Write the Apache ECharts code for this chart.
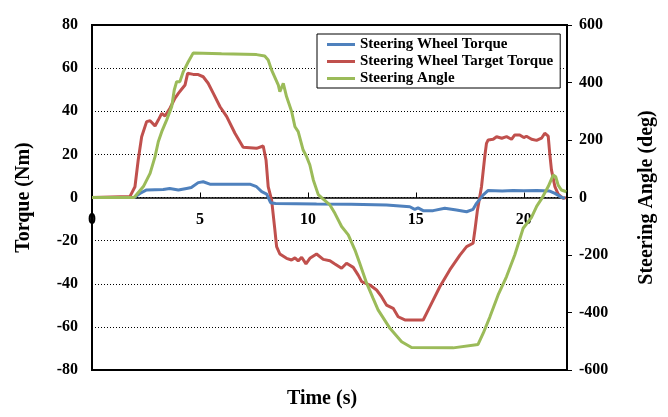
<!DOCTYPE html>
<html>
<head>
<meta charset="utf-8">
<script src="https://cdn.jsdelivr.net/npm/echarts@6/dist/echarts.min.js"></script>
<style>
html,body{margin:0;padding:0;background:#fff;}
#chart{width:668px;height:417px;}
</style>
</head>
<body>
<div id="chart"></div>
<script>
// Time ticks
var timeTicks = [0, 5, 10, 15, 20];
var torqueTicks = [-80, -60, -40, -20, 0, 20, 40, 60, 80];
var angleTicks = [-600, -400, -200, 0, 200, 400, 600];

// Steering Wheel Torque (Nm)
var swtTime = [0, 1.95, 2.22, 2.53, 3.3, 3.6, 4.0, 4.38, 4.6, 4.92, 5.15, 5.46, 6.5, 7.31, 7.62, 7.86, 8.09, 8.27, 8.5, 10.4, 12.0, 13.64, 14.72, 14.95, 15.1, 15.34, 15.8, 16.34, 16.88, 17.35, 17.65, 17.81, 18.12, 18.35, 19.0, 19.5, 20.0, 20.6, 21.2, 21.44, 21.74, 21.9];
var swtValue = [0, 0, 1.9, 3.5, 3.7, 4.2, 3.5, 4.2, 4.6, 6.9, 7.3, 6.2, 6.2, 6.2, 5.0, 2.7, 1.6, -2.4, -2.8, -3.0, -3.1, -3.5, -4.3, -5.5, -4.8, -6.1, -6.1, -5.0, -5.8, -6.6, -5.5, -2.7, 1.2, 3.3, 3.0, 3.3, 3.1, 3.3, 3.0, 1.9, 0.1, -0.4];

// Steering Wheel Target Torque (Nm)
var swttTime = [0, 1.76, 1.99, 2.14, 2.3, 2.53, 2.69, 2.92, 3.07, 3.23, 3.38, 3.61, 3.84, 4.0, 4.15, 4.31, 4.43, 4.69, 4.92, 5.15, 5.38, 5.62, 5.93, 6.24, 6.62, 7.0, 7.62, 7.93, 8.06, 8.16, 8.32, 8.47, 8.55, 8.7, 9.01, 9.24, 9.4, 9.55, 9.71, 9.91, 10.09, 10.4, 10.71, 11.02, 11.25, 11.56, 11.79, 12.1, 12.33, 12.49, 12.87, 13.18, 13.41, 13.64, 13.95, 14.18, 14.49, 15.34, 15.65, 16.11, 16.57, 17.04, 17.35, 17.65, 17.75, 17.85, 18.04, 18.19, 18.27, 18.35, 18.58, 18.74, 18.98, 19.2, 19.43, 19.58, 19.81, 20.0, 20.12, 20.36, 20.59, 20.82, 20.97, 21.13, 21.2, 21.28, 21.44, 21.59, 21.82, 21.95];
var swttValue = [0, 0.5, 5, 17.4, 28.2, 35.2, 35.6, 33.2, 35.9, 39, 37.8, 41.4, 46, 48.3, 50.2, 52.2, 57.6, 57.1, 57, 56, 53, 48.3, 42.1, 37.5, 29.8, 23.3, 22.8, 23.9, 17.4, 5, -1.2, -15, -22.8, -26.2, -28.2, -29, -28, -29.4, -27.7, -30.8, -28.2, -26.2, -28.7, -29.3, -30.8, -32.8, -30.5, -32.4, -36, -39, -40.6, -42.9, -46, -49.9, -51.4, -55.3, -56.8, -56.8, -50.6, -41.4, -33.6, -26.7, -22.8, -21.2, -14, -6, 5, 18.9, 25.1, 26.7, 27, 28.2, 27.5, 28.2, 27, 29, 29, 27.8, 28.4, 27, 26.5, 27.5, 29.8, 28.5, 20.5, 12.8, 5, 1.6, -0.4, 0];

// Steering Angle (deg)
var saTime = [0, 1.95, 2.38, 2.69, 2.92, 3.07, 3.23, 3.46, 3.69, 3.81, 3.92, 4.07, 4.23, 4.46, 4.69, 6.0, 7.62, 8.0, 8.16, 8.32, 8.63, 8.7, 8.86, 9.01, 9.25, 9.4, 9.55, 9.78, 9.94, 10.09, 10.25, 10.48, 10.71, 11.02, 11.25, 11.56, 11.87, 12.18, 12.4, 12.72, 13.02, 13.25, 13.8, 14.34, 14.8, 16.73, 17.88, 18.12, 18.43, 18.81, 19.2, 19.58, 19.97, 20.35, 20.6, 20.82, 21.13, 21.36, 21.48, 21.59, 21.74, 21.97];
var saValue = [0, 0, 38, 84, 142, 194, 229, 270, 316, 374, 403, 403, 438, 472, 503, 500, 497, 492, 478, 443, 391, 368, 397, 351, 298, 246, 229, 165, 142, 113, 61, 10, -6, -26, -55, -101, -130, -183, -229, -298, -351, -391, -455, -502, -522, -523, -511, -472, -415, -339, -275, -200, -107, -70, -30, -5, 38, 78, 72, 43, 26, 20];

function zip(a, b) { return a.map(function (v, i) { return [v, b[i]]; }); }

var GRID = {left: 92, right: 101, top: 25, bottom: 47};
var plotH = 417 - GRID.top - GRID.bottom;
var tMin = torqueTicks[0], tMax = torqueTicks[torqueTicks.length - 1];
// place the time axis on the zero line of the torque axis
var xAxisOffset = -plotH * (0 - tMin) / (tMax - tMin);

var FONT = '"Liberation Serif", "Times New Roman", serif';
var chart = echarts.init(document.getElementById('chart'), null, {renderer: 'canvas'});
chart.setOption({
  animation: false,
  backgroundColor: '#fff',
  textStyle: {fontFamily: FONT},
  grid: {left: GRID.left, right: GRID.right, top: GRID.top, bottom: GRID.bottom, show: true, borderColor: '#000', borderWidth: 2, backgroundColor: 'transparent'},
  title: {
    text: 'Time (s)', left: 317, top: 384, textAlign: 'center',
    textStyle: {fontFamily: FONT, fontWeight: 'bold', fontSize: 20, color: '#000'}
  },
  legend: {
    orient: 'vertical', left: 317, top: 34,
    padding: [2, 7, 1, 10], itemGap: 0,
    itemWidth: 28, itemHeight: 3, icon: 'rect',
    backgroundColor: '#fff', borderColor: '#000', borderWidth: 1,
    textStyle: {fontFamily: FONT, fontWeight: 'bold', fontSize: 15, color: '#000', lineHeight: 17},
    data: ['Steering Wheel Torque', 'Steering Wheel Target Torque', 'Steering Angle']
  },
  xAxis: {
    type: 'value', min: 0, max: 22, interval: 5,
    position: 'bottom', offset: xAxisOffset,
    axisLine: {onZero: false, lineStyle: {color: '#000', width: 1.5}},
    axisTick: {inside: true, length: 5, lineStyle: {color: '#000'}},
    axisLabel: {
      margin: 14, color: '#000', fontFamily: FONT, fontWeight: 'bold', fontSize: 16,
      formatter: function (v) { return timeTicks.indexOf(v) >= 0 ? String(v) : ''; }
    },
    splitLine: {show: false}
  },
  yAxis: [{
    type: 'value', min: tMin, max: tMax, interval: 20,
    name: 'Torque (Nm)', nameLocation: 'middle', nameGap: 58, nameRotate: 90,
    nameTextStyle: {fontFamily: FONT, fontWeight: 'bold', fontSize: 20, color: '#000'},
    axisLine: {show: true, onZero: false, lineStyle: {color: '#000', width: 2}},
    axisTick: {show: false},
    axisLabel: {margin: 14, color: '#000', fontFamily: FONT, fontWeight: 'bold', fontSize: 16},
    splitLine: {show: true, lineStyle: {color: '#000', type: [1, 2], width: 1}}
  }, {
    type: 'value', min: angleTicks[0], max: angleTicks[angleTicks.length - 1], interval: 200,
    position: 'right',
    name: 'Steering Angle (deg)', nameLocation: 'middle', nameGap: 70, nameRotate: 90,
    nameTextStyle: {fontFamily: FONT, fontWeight: 'bold', fontSize: 20, color: '#000'},
    axisLine: {show: true, onZero: false, lineStyle: {color: '#000', width: 2}},
    axisTick: {show: true, length: 5, lineStyle: {color: '#000'}},
    axisLabel: {margin: 12, color: '#000', fontFamily: FONT, fontWeight: 'bold', fontSize: 16},
    splitLine: {show: false}
  }],
  series: [{
    name: 'Steering Wheel Torque', type: 'line', yAxisIndex: 0, symbol: 'none', z: 3,
    data: zip(swtTime, swtValue),
    lineStyle: {color: '#4F81BD', width: 3}, itemStyle: {color: '#4F81BD'}
  }, {
    name: 'Steering Wheel Target Torque', type: 'line', yAxisIndex: 0, symbol: 'none', z: 2,
    data: zip(swttTime, swttValue),
    lineStyle: {color: '#C0504D', width: 3}, itemStyle: {color: '#C0504D'}
  }, {
    name: 'Steering Angle', type: 'line', yAxisIndex: 1, symbol: 'none', z: 4,
    data: zip(saTime, saValue),
    lineStyle: {color: '#9BBB59', width: 3}, itemStyle: {color: '#9BBB59'}
  }]
});
</script>
</body>
</html>
